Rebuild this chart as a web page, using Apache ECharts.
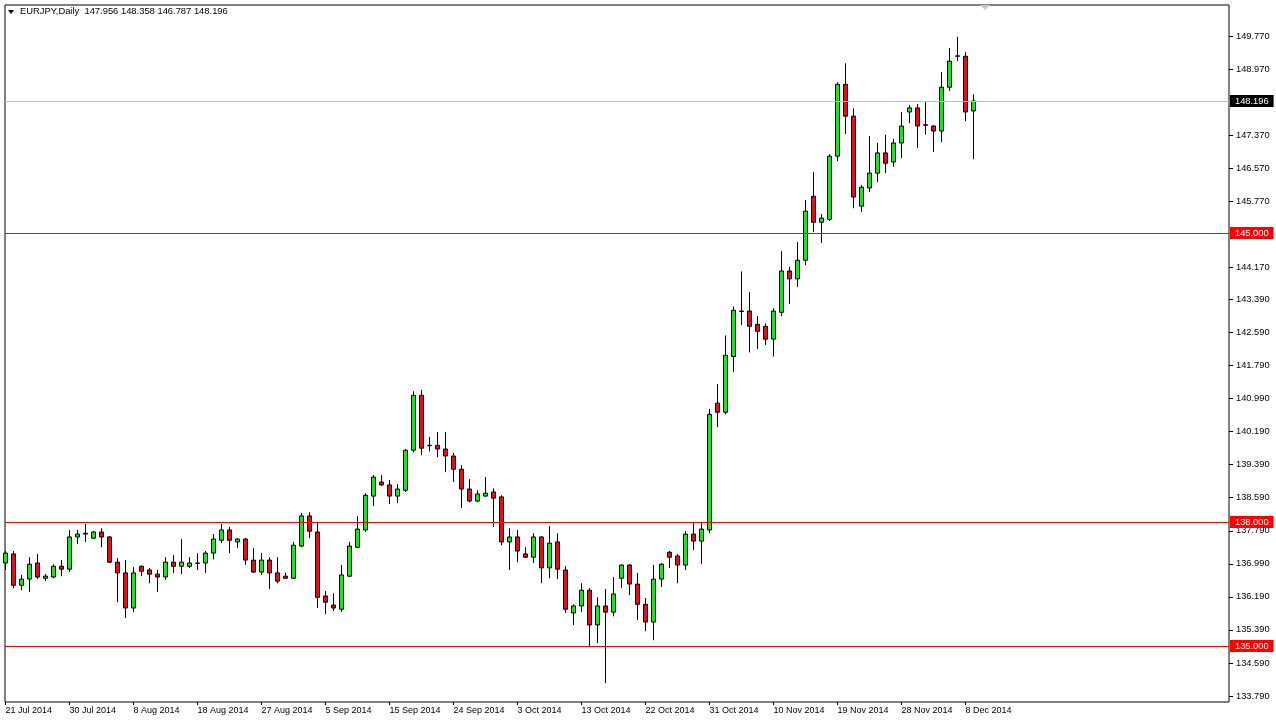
<!DOCTYPE html>
<html>
<head>
<meta charset="utf-8">
<script src="https://cdn.jsdelivr.net/npm/echarts@6/dist/echarts.min.js"></script>
<style>
html,body{margin:0;padding:0;background:#fff;}
#chart{width:1276px;height:720px;}
</style>
</head>
<body>
<div id="chart"></div>
<script>
// ---- DATA (EURJPY, Daily; bar index 0 = 21 Jul 2014) ----
var symbolTitle = 'EURJPY,Daily';
var lastQuote = ['147.956', '148.358', '146.787', '148.196'];

var openP = [137.01,137.23,136.47,136.62,137.01,136.64,136.67,136.93,136.86,137.64,
137.71,137.61,137.76,137.64,137.03,136.77,135.92,136.93,136.84,136.74,
136.67,137.03,136.93,136.93,137.01,137.01,137.25,137.56,137.81,137.52,
137.59,137.08,136.79,137.08,136.77,136.69,136.64,137.42,138.15,137.76,
136.21,135.99,135.89,136.69,137.39,137.81,138.63,138.97,138.90,138.63,
138.77,139.74,141.07,139.86,139.86,139.77,139.60,139.28,138.80,138.51,
138.63,138.73,138.61,137.52,137.64,137.23,137.15,137.64,136.89,137.52,
136.84,135.80,135.97,136.35,135.51,135.97,135.82,136.64,136.96,136.50,
136.01,135.58,136.62,137.27,137.18,136.96,137.71,137.54,137.81,140.88,
140.66,142.01,143.11,143.11,142.79,142.74,142.43,143.08,144.08,143.89,
144.34,145.89,145.26,145.33,146.86,148.60,147.83,145.65,146.09,146.45,
146.94,146.72,147.18,147.93,148.03,147.62,147.59,147.47,148.53,149.28,
149.28,147.956];

var highP = [137.30,137.30,136.72,137.15,137.23,136.74,136.98,137.08,137.81,137.81,
137.95,137.78,137.85,137.66,137.13,137.08,136.91,136.95,136.89,136.84,
137.15,137.20,137.59,137.15,137.25,137.30,137.71,137.95,137.88,137.61,
137.61,137.37,137.25,137.15,137.15,136.77,137.52,138.22,138.24,137.98,
136.33,136.28,136.96,137.52,138.15,138.70,139.14,139.14,139.02,138.92,
139.77,141.17,141.20,140.06,140.18,140.18,139.67,139.38,139.04,138.77,
139.09,138.82,138.65,137.85,137.81,137.39,137.73,137.66,137.90,137.73,
136.93,136.01,136.52,136.40,136.18,136.38,136.67,136.98,136.98,136.77,
136.16,136.96,137.01,137.30,137.23,137.78,137.98,138.00,140.74,141.34,
142.52,143.22,144.07,143.57,142.99,142.81,143.18,144.56,144.18,144.78,
145.80,146.48,145.46,146.91,148.65,149.11,148.02,146.16,147.35,147.18,
147.38,147.28,147.93,148.10,148.12,148.17,147.61,148.90,149.48,149.75,
149.38,148.358];

var lowP = [136.84,136.40,136.35,136.31,136.62,136.57,136.64,136.69,136.79,137.47,
137.52,137.59,137.39,137.01,136.06,135.68,135.82,136.69,136.52,136.31,
136.60,136.77,136.74,136.89,136.84,136.77,137.10,137.49,137.25,137.37,
136.96,136.77,136.72,136.38,136.52,136.62,136.62,137.39,137.61,135.92,
135.77,135.85,135.82,136.67,137.37,137.76,138.39,138.88,138.44,138.46,
138.73,139.69,139.62,139.71,139.57,139.21,138.97,138.34,138.48,138.48,
138.61,137.88,137.44,136.84,137.03,137.13,137.01,136.52,136.64,136.62,
135.80,135.51,135.82,134.97,135.07,134.10,135.72,136.40,136.23,135.63,
135.36,135.14,136.43,136.89,136.52,136.84,137.32,136.98,137.73,140.30,
140.61,141.63,142.77,142.11,142.19,142.29,142.01,142.99,143.28,143.69,
144.22,145.02,144.76,145.29,146.74,147.40,145.60,145.51,145.99,146.23,
146.45,146.60,146.81,147.66,147.06,147.38,146.96,147.20,148.44,149.16,
147.71,146.787];

var closeP = [137.25,136.47,136.62,136.98,136.67,136.69,136.93,136.86,137.64,137.71,
137.73,137.76,137.64,137.03,136.77,135.92,136.77,136.81,136.74,136.67,
137.03,136.93,137.03,137.01,137.00,137.25,137.59,137.81,137.56,137.59,
137.08,136.79,137.08,136.77,136.57,136.64,137.44,138.15,137.78,136.18,
136.06,135.92,136.72,137.42,137.83,138.65,139.09,138.90,138.63,138.80,
139.74,141.07,139.79,139.85,139.77,139.60,139.28,138.80,138.51,138.68,
138.70,138.58,137.52,137.64,137.30,137.15,137.64,136.89,137.49,136.86,
135.89,135.97,136.35,135.51,135.97,135.82,136.26,136.96,136.50,136.01,
135.58,136.62,136.98,137.15,136.96,137.71,137.54,137.83,140.61,140.66,
142.04,143.13,143.10,142.74,142.62,142.43,143.11,144.08,143.89,144.34,
145.53,145.26,145.36,146.86,148.60,147.83,145.87,146.11,146.45,146.94,
146.69,147.18,147.59,148.03,147.59,147.61,147.47,148.53,149.16,149.29,
147.93,148.196];

var dateLabelIdx = [0,8,16,24,32,40,48,56,64,72,80,88,96,104,112,120];
var dateLabels = ['21 Jul 2014','30 Jul 2014','8 Aug 2014','18 Aug 2014','27 Aug 2014','5 Sep 2014',
  '15 Sep 2014','24 Sep 2014','3 Oct 2014','13 Oct 2014','22 Oct 2014','31 Oct 2014',
  '10 Nov 2014','19 Nov 2014','28 Nov 2014','8 Dec 2014'];

var priceTicks = [149.77,148.97,147.37,146.57,145.77,144.17,143.39,142.59,141.79,140.99,
  140.19,139.39,138.59,137.79,136.99,136.19,135.39,134.59,133.79];

var levelLines = [145.0, 138.0, 135.0];
var bidLine = 148.196;

// ---- BUILD ----
var FONT = 'Liberation Sans';
var candles = openP.map(function (o, i) {
  return [i, o, closeP[i], lowP[i], highP[i]];
});

var markData = levelLines.map(function (v) {
  return {
    yAxis: v,
    lineStyle: { color: '#ff0000', width: 1, type: 'solid' },
    label: { backgroundColor: '#ff0000' }
  };
});
markData.push({
  yAxis: bidLine,
  lineStyle: { color: '#c0c0c0', width: 1, type: 'solid' },
  label: { backgroundColor: '#000000' }
});

var chart = echarts.init(document.getElementById('chart'), null, { renderer: 'canvas' });
var option = {
  animation: false,
  backgroundColor: '#ffffff',
  textStyle: { fontFamily: FONT },
  grid: {
    left: 5, right: 47, top: 5, bottom: 18,
    show: true, borderColor: '#000000', borderWidth: 1, backgroundColor: '#ffffff'
  },
  xAxis: {
    type: 'value',
    min: -0.06,
    max: 152.94,
    axisLine: { show: false, onZero: false },
    splitLine: { show: false },
    axisTick: { show: true, customValues: dateLabelIdx, length: 3, lineStyle: { color: '#000' } },
    axisLabel: {
      customValues: dateLabelIdx,
      align: 'left',
      margin: 4,
      color: '#000',
      fontFamily: FONT,
      fontSize: 9,
      formatter: function (v) {
        var k = dateLabelIdx.indexOf(Math.round(v));
        return k >= 0 ? dateLabels[k] : '';
      }
    }
  },
  yAxis: {
    type: 'value',
    position: 'right',
    min: 133.644,
    max: 150.521,
    axisLine: { show: false, onZero: false },
    splitLine: { show: false },
    axisTick: { show: true, customValues: priceTicks, length: 4, lineStyle: { color: '#000' } },
    axisLabel: {
      customValues: priceTicks,
      margin: 7,
      color: '#000',
      fontFamily: FONT,
      fontSize: 9.3,
      formatter: function (v) { return v.toFixed(3); }
    }
  },
  series: [{
    type: 'candlestick',
    data: candles,
    barWidth: 5,
    clip: true,
    itemStyle: {
      color: '#22e022',
      color0: '#d8121e',
      borderColor: '#000000',
      borderColor0: '#000000',
      borderWidth: 1
    },
    markLine: {
      silent: true,
      symbol: 'none',
      animation: false,
      precision: 3,
      label: {
        show: true,
        position: 'end',
        distance: 1,
        color: '#ffffff',
        fontFamily: FONT,
        fontSize: 9.3,
        padding: [2, 5, 1, 5],
        formatter: function (p) { return Number(p.value).toFixed(3); }
      },
      emphasis: { disabled: true },
      data: markData
    }
  }],
  graphic: [
    {
      type: 'polygon',
      shape: { points: [[8, 10], [14, 10], [11, 14]] },
      style: { fill: '#000' }
    },
    {
      type: 'text',
      left: 20, top: 7,
      style: {
        text: symbolTitle + '  ' + lastQuote.join(' '),
        font: '9.4px "Liberation Sans"',
        fill: '#000'
      }
    },
    {
      type: 'polygon',
      shape: { points: [[980, 5], [990, 5], [985, 10]] },
      style: { fill: '#c8c8c8' }
    }
  ]
};
chart.setOption(option);
</script>
</body>
</html>
